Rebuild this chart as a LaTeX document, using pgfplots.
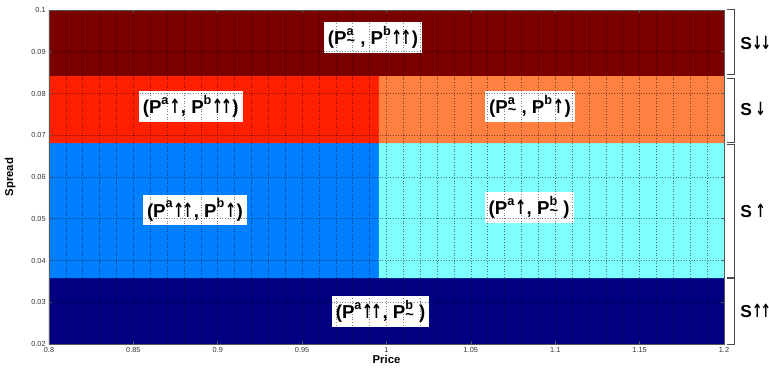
\documentclass[border=0pt]{standalone}
\usepackage{pgfplots}
\pgfplotsset{compat=1.18}
\usepackage{fontspec}
\setmainfont{Liberation Sans}
\newfontfamily\arr{DejaVu Sans Bold}
\definecolor{cdr}{HTML}{7A0000}
\definecolor{cr}{HTML}{FF2000}
\definecolor{co}{HTML}{FF8040}
\definecolor{cc}{HTML}{80FFFF}
\definecolor{cb}{HTML}{0080FF}
\definecolor{cn}{HTML}{000080}
\newcommand\au{\scalebox{0.72}[1.05]{\arr\char"2191}}
\newcommand\ad{\scalebox{0.72}[1.05]{\arr\char"2193}}
\newcommand\U{\kern0.04em\au\kern0.02em}
\newcommand\UU{\kern0.02em\au\kern-0.12em\au\kern0.02em}
\newcommand\D{\kern0.04em\ad\kern0.02em}
\newcommand\DD{\kern0.02em\ad\kern-0.12em\ad\kern0.02em}
\newcommand\sups[1]{\raisebox{0.5em}{\fontsize{9.5}{10}\selectfont #1}}
\newcommand\Pt[1]{P\rlap{\sups{#1}}\raisebox{-0.04em}{\fontsize{11}{12}\selectfont\textasciitilde}}
\newcommand\Ps[1]{P\sups{#1}}
\begin{document}
\begin{tikzpicture}
\useasboundingbox (-36.75pt,-19.5pt) rectangle (540pt,258pt);
\begin{axis}[
  scale only axis, width=506.25pt, height=250.5pt,
  xmin=0.8, xmax=1.2, ymin=0.02, ymax=0.1,
  xtick={0.8,0.85,...,1.21}, ytick={0.02,0.03,...,0.101},
  xticklabels={0.8,0.85,0.9,0.95,1,1.05,1.1,1.15,1.2},
  yticklabels={0.02,0.03,0.04,0.05,0.06,0.07,0.08,0.09,0.1},
  minor x tick num=4,
  xmajorgrids, xminorgrids, ymajorgrids,
  grid style={black, line width=0.45pt, dash pattern=on 0.6pt off 1.4pt, opacity=0.5},
  minor grid style={black, line width=0.45pt, dash pattern=on 0.6pt off 1.4pt, opacity=0.5},
  axis on top,
  axis line style={black!65, line width=0.6pt},
  tick style={black!65, line width=0.4pt},
  major tick length=2.5pt, minor tick length=0pt,
  tick align=inside,
  ticklabel style={font=\fontsize{5.5}{6}\selectfont, text=black!80},
  xticklabel style={yshift=1pt},
  yticklabel style={xshift=1pt},
  xlabel={\textbf{Price}}, ylabel={\textbf{Spread}},
  label style={font=\fontsize{8.5}{10}\selectfont},
  xlabel style={yshift=4.5pt},
  ylabel style={yshift=5pt},
  clip=false,
]
\addplot[fill=cn, draw=none] coordinates {(0.8,0.02) (1.2,0.02) (1.2,0.0358) (0.8,0.0358) (0.8,0.02)};
\addplot[fill=cb, draw=none] coordinates {(0.8,0.0358) (0.9955,0.0358) (0.9955,0.0681) (0.8,0.0681) (0.8,0.0358)};
\addplot[fill=cc, draw=none] coordinates {(0.9955,0.0358) (1.2,0.0358) (1.2,0.0681) (0.9955,0.0681) (0.9955,0.0358)};
\addplot[fill=cr, draw=none] coordinates {(0.8,0.0681) (0.9955,0.0681) (0.9955,0.0842) (0.8,0.0842) (0.8,0.0681)};
\addplot[fill=co, draw=none] coordinates {(0.9955,0.0681) (1.2,0.0681) (1.2,0.0842) (0.9955,0.0842) (0.9955,0.0681)};
\addplot[fill=cdr, draw=none] coordinates {(0.8,0.0842) (1.2,0.0842) (1.2,0.1) (0.8,0.1) (0.8,0.0842)};
\tikzset{lab/.style={fill=white, inner sep=3pt, font=\fontsize{14}{16}\selectfont\bfseries}}
\node[lab] at (axis cs:0.992,0.0934) {(\Pt{a}\ , \Ps{b}\UU)};
\node[lab] at (axis cs:0.884,0.0769) {(\Ps{a}\U, \Ps{b}\UU)};
\node[lab] at (axis cs:1.085,0.0769) {(\Pt{a}\ , \Ps{b}\U)};
\node[lab] at (axis cs:0.8865,0.0521) {(\Ps{a}\UU, \Ps{b}\U)};
\node[lab] at (axis cs:1.0845,0.0527) {(\Ps{a}\U, \Pt{b}\ )};
\node[lab] at (axis cs:0.9965,0.0278) {(\Ps{a}\UU, \Pt{b}\ )};
\coordinate (t0) at (axis cs:1.2,0.1);
\coordinate (t1) at (axis cs:1.2,0.0842);
\coordinate (t2) at (axis cs:1.2,0.0681);
\coordinate (t3) at (axis cs:1.2,0.0358);
\coordinate (t4) at (axis cs:1.2,0.02);
\coordinate (s1) at (axis cs:1.2,0.0921);
\coordinate (s2) at (axis cs:1.2,0.0762);
\coordinate (s3) at (axis cs:1.2,0.0519);
\coordinate (s4) at (axis cs:1.2,0.0279);
\end{axis}
\tikzset{brk/.style={black!70, line width=0.6pt}}
\draw[brk] ([shift={(2.5pt,0.4pt)}]t0) -- ++(5pt,0) |- ([shift={(2.5pt,1pt)}]t1);
\draw[brk] ([shift={(2.5pt,-1.5pt)}]t1) -- ++(5pt,0) |- ([shift={(2.5pt,0.5pt)}]t2);
\draw[brk] ([shift={(2.5pt,-1pt)}]t2) -- ++(5pt,0) |- ([shift={(2.5pt,0.8pt)}]t3);
\draw[brk] ([shift={(2.5pt,-0.4pt)}]t3) -- ++(5pt,0) |- ([shift={(2.5pt,0pt)}]t4);
\tikzset{slab/.style={anchor=west, inner sep=0pt, font=\fontsize{13}{15}\selectfont\bfseries}}
\node[slab] at ([xshift=12pt]s1) {S\DD};
\node[slab] at ([xshift=12pt]s2) {S\,\D};
\node[slab] at ([xshift=12pt]s3) {S\,\U};
\node[slab] at ([xshift=12pt]s4) {S\UU};
\end{tikzpicture}
\end{document}
